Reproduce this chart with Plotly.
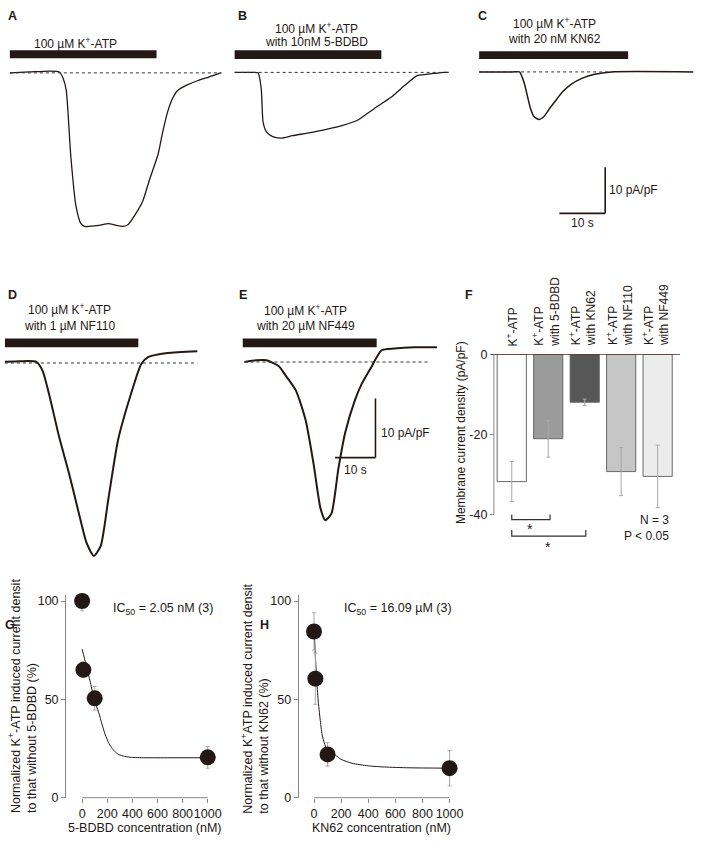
import plotly.graph_objects as go

W, H = 708, 846
FONT = "Liberation Sans, Arial, Helvetica, sans-serif"
INK = "#231815"

# ---------------- data ----------------
# Current traces: time (s) and membrane current density (pA/pF)
tA = [0, 4.3, 8.6, 10.8, 11.6, 12.3, 13.3, 14.4, 15.5, 16.3, 19.4, 21.5, 23.2, 24.7, 25.8,
      27.5, 29.0, 30.5, 32.3, 33.3, 34.4, 35.5, 36.6, 38.7, 40.9, 43.4, 46.0]
iA = [0, 0.2, 0.4, 0.2, -1.1, -3.8, -18.1, -28.7, -32.6, -33.2, -33.0, -32.6, -33.0, -33.2, -32.8,
      -30.4, -27.7, -23.0, -17.7, -13.0, -8.5, -5.5, -3.8, -2.6, -1.7, -0.9, 0]

tB = [0, 3.7, 5.1, 5.8, 6.2, 6.9, 8.3, 10.1, 12.6, 17.6, 23.4, 26.9, 30.5, 34.1, 37.0,
      39.8, 41.3, 45.6, 46.7]
iB = [0, 0, -0.1, -3.5, -10.7, -12.8, -13.9, -14.2, -13.7, -12.8, -11.5, -10.3, -7.8, -5.4, -2.9,
      -0.7, -0.5, 0, 0]

tC = [0, 7.3, 8.8, 9.8, 10.5, 11.2, 12.0, 13.1, 14.1, 15.6, 17.0, 18.1, 20.2, 22.4, 25.2, 28.8, 46.7]
iC = [0, 0, 0, -2.3, -5.1, -7.9, -9.7, -10.3, -9.7, -7.6, -5.8, -4.4, -2.6, -1.4, -0.5, 0, 0]

tD = [0, 3.7, 7.8, 9.3, 11.0, 13.4, 15.9, 18.3, 20.2, 22.0, 23.7, 25.6, 28.0, 31.2, 33.7,
      35.4, 40.2, 47.6]
iD = [0.2, 0.3, 0.2, -1.3, -5.5, -12.5, -18.8, -25.5, -30.5, -32.7, -31.0, -23.0, -13.0, -5.2, -0.2,
      1.0, 1.7, 2.0]

tE = [0, 2.9, 5.4, 8.5, 10.2, 12.7, 15.1, 17.1, 18.8, 20.0, 21.5, 23.2, 24.9, 27.3, 29.0,
      31.5, 33.9, 37.1, 42.0, 47.6]
iE = [0, 0.3, 0.3, -0.7, -2.3, -4.8, -9.8, -17.3, -24.8, -26.8, -25.7, -18.2, -12.0, -6.5, -3.7,
      -0.7, 2.0, 2.3, 2.5, 2.5]

# application bars (s)
bar_on = [0, 0, 0, 0, -0.5]
bar_off = [32, 32, 32.5, 33, 32.7]

# F: bar chart
f_labels = ["K<sup>+</sup>-ATP",
            "K<sup>+</sup>-ATP<br>with 5-BDBD",
            "K<sup>+</sup>-ATP<br>with KN62",
            "K<sup>+</sup>-ATP<br>with NF110",
            "K<sup>+</sup>-ATP<br>with NF449"]
f_values = [-31.8, -21.1, -12.0, -29.3, -30.5]
f_errors = [5.0, 4.6, 0.8, 6.0, 7.8]
f_ticks = [0, -20, -40]

# G: 5-BDBD dose response
g_conc = [0, 10, 100, 1000]
g_val = [100, 65, 50.5, 20.5]
g_err = [5, 4, 6, 5.5]
g_fit_x = [0, 30, 66, 100, 131, 160, 184, 210, 234, 260, 289, 340, 391, 500, 700, 1000]
g_fit_y = [75.5, 68, 58.5, 49, 43.5, 37, 32, 28, 25.5, 23.5, 22, 21, 20.5, 20.3, 20.3, 20.3]

# H: KN62 dose response
h_conc = [0, 10, 100, 1000]
h_val = [84.5, 60.5, 22, 15]
h_err = [9.5, 13, 6, 9]
h_fit_x = [0, 10, 20, 30, 45, 60, 80, 100, 130, 160, 200, 280, 400, 520, 700, 1000]
h_fit_y = [88, 72, 60, 50, 40, 32, 27, 24, 22.5, 21.5, 19.5, 17.5, 16.2, 15.6, 15.2, 15]

dose_ticks = [0, 200, 400, 600, 800, 1000]
pct_ticks = [0, 50, 100]


# ---------------- helpers ----------------
def fx(px):
    return px / W


def fy(py):
    return 1 - py / H


def ann(text, x, y, xanchor="center", yanchor="middle", size=12, bold=False, **kw):
    if bold:
        text = "<b>" + text + "</b>"
    return dict(text=text, x=fx(x), y=fy(y), xref="paper", yref="paper", showarrow=False,
                xanchor=xanchor, yanchor=yanchor,
                font=dict(size=size, color=INK, family=FONT), **kw)


fig = go.Figure()
layout = dict(width=W, height=H, margin=dict(l=0, r=0, t=0, b=0),
              paper_bgcolor="white", plot_bgcolor="rgba(0,0,0,0)",
              showlegend=False, font=dict(family=FONT, color=INK, size=12))
shapes = []
annotations = []

# ---------------- trace panels A-E ----------------
panels = [
    dict(t=tA, i=iA, x0=10, yb=67, dx=(8, 228), dy=(40, 235), st=4.65, si=4.7, end=46.2, bar=(44, 52), w=1.3),
    dict(t=tB, i=iB, x0=238, yb=66.5, dx=(236, 458), dy=(40, 235), st=4.65, si=4.7, end=46.7, bar=(44, 53), w=1.3),
    dict(t=tC, i=iC, x0=486, yb=66, dx=(484, 706), dy=(40, 235), st=4.65, si=4.7, end=29, bar=(45, 53), w=1.5),
    dict(t=tD, i=iD, x0=5, yb=362, dx=(3, 205), dy=(330, 565), st=4.1, si=6.0, end=47.6, bar=(337, 346), w=2.0),
    dict(t=tE, i=iE, x0=248, yb=361, dx=(246, 450), dy=(330, 565), st=4.1, si=6.0, end=46.0, bar=(337, 346), w=2.0),
]

for k, p in enumerate(panels):
    n = k + 1
    sx = "" if n == 1 else str(n)
    xr = [(p["dx"][0] - p["x0"]) / p["st"], (p["dx"][1] - p["x0"]) / p["st"]]
    yr = [(p["yb"] - p["dy"][1]) / p["si"], (p["yb"] - p["dy"][0]) / p["si"]]
    layout["xaxis" + sx] = dict(domain=[fx(p["dx"][0]), fx(p["dx"][1])], range=xr, visible=False,
                                anchor="y" + sx, fixedrange=True)
    layout["yaxis" + sx] = dict(domain=[fy(p["dy"][1]), fy(p["dy"][0])], range=yr, visible=False,
                                anchor="x" + sx, fixedrange=True)
    fig.add_trace(go.Scatter(x=p["t"], y=p["i"], mode="lines", xaxis="x" + sx, yaxis="y" + sx,
                             line=dict(color=INK, width=p["w"], shape="spline", smoothing=0.6),
                             hoverinfo="skip"))
    # dotted baseline
    shapes.append(dict(type="line", xref="x" + sx, yref="y" + sx, x0=0, x1=p["end"], y0=0, y1=0,
                       line=dict(color="#333", width=1, dash="dot")))
    # application bar
    shapes.append(dict(type="rect", xref="x" + sx, yref="paper", x0=bar_on[k], x1=bar_off[k],
                       y0=fy(p["bar"][1]), y1=fy(p["bar"][0]), fillcolor=INK, line=dict(width=0)))

# scale bars (panel C axes and panel E axes)
shapes += [
    dict(type="line", xref="x3", yref="y3", x0=27.5, x1=27.5, y0=-20.6, y1=-30.6, line=dict(color=INK, width=1.6)),
    dict(type="line", xref="x3", yref="y3", x0=17.5, x1=27.5, y0=-30.6, y1=-30.6, line=dict(color=INK, width=1.6)),
    dict(type="line", xref="x5", yref="y5", x0=32.4, x1=32.4, y0=-6.2, y1=-16.2, line=dict(color=INK, width=1.6)),
    dict(type="line", xref="x5", yref="y5", x0=22.4, x1=32.4, y0=-16.2, y1=-16.2, line=dict(color=INK, width=1.6)),
]
annotations += [
    ann("10 pA/pF", 616, 186, xanchor="left"),
    ann("10 s", 591, 220),
    ann("10 pA/pF", 384, 433, xanchor="left"),
    ann("10 s", 361, 471),
]

# trace titles
annotations += [
    ann("100 µM K<sup>+</sup>-ATP", 77, 37),
    ann("100 µM K<sup>+</sup>-ATP", 321, 21),
    ann("with 10nM 5-BDBD", 321, 36),
    ann("100 µM K<sup>+</sup>-ATP", 562, 16),
    ann("with 20 nM KN62", 562, 33),
    ann("100 µM K<sup>+</sup>-ATP", 71, 307),
    ann("with 1 µM NF110", 71, 324),
    ann("100 µM K<sup>+</sup>-ATP", 310, 308),
    ann("with 20 µM NF449", 310, 324),
]

# panel letters
for letter, (x, y) in zip("ABCDEFGH", [(13, 9), (246, 9), (489, 9), (13, 293), (246, 293),
                                       (476, 293), (10, 628), (268, 628)]):
    annotations.append(ann(letter, x, y, size=12.5, bold=True))

# ---------------- panel F: bar chart ----------------
f_x = list(range(len(f_values)))
f_colors = ["#ffffff", "#9b9b9b", "#575757", "#c6c6c6", "#ececec"]
fig.add_trace(go.Bar(x=f_x, y=f_values, xaxis="x6", yaxis="y6", width=0.8,
                     marker=dict(color=f_colors, line=dict(color="#6a6a6a", width=1)),
                     error_y=dict(type="data", array=f_errors, color="#a8a8a8", thickness=1, width=2),
                     hoverinfo="skip"))
f_px_per = 4.075
layout["xaxis6"] = dict(domain=[fx(498), fx(690)], range=[-0.57, 4.62], visible=False, anchor="y6",
                        fixedrange=True)
layout["yaxis6"] = dict(domain=[fy(553), fy(353)], range=[-(553 - 353) / f_px_per, 0], anchor="free",
                        position=fx(501), showline=False, showgrid=False, zeroline=False,
                        tickvals=f_ticks, ticktext=[str(v) for v in f_ticks], ticks="outside",
                        ticklen=4, tickcolor="#888", tickfont=dict(size=12.5, color=INK), fixedrange=True)
shapes += [
    dict(type="line", xref="x6", yref="y6", x0=-0.49, x1=-0.49, y0=0, y1=-40, line=dict(color="#888", width=1)),
    dict(type="line", xref="x6", yref="y6", x0=-0.57, x1=4.62, y0=0, y1=0, line=dict(color="#4a2a20", width=1.6)),
    # significance brackets
    dict(type="path", xref="x6", yref="y6", path="M 0,-40 L 0,-41.3 L 1.05,-41.3 L 1.05,-40",
         line=dict(color="#333", width=1.2)),
    dict(type="path", xref="x6", yref="y6", path="M 0,-43.9 L 0,-45.4 L 2.03,-45.4 L 2.03,-43.9",
         line=dict(color="#333", width=1.2)),
]
for k, lab in enumerate(f_labels):
    annotations.append(dict(text=lab, x=k + (0.0 if k == 0 else -0.05), y=fy(347), xref="x6", yref="paper",
                            showarrow=False, textangle=-90, xanchor="center", yanchor="bottom",
                            align="left", font=dict(size=12, color=INK, family=FONT)))
annotations += [
    ann("*", 538, 531, size=14),
    ann("*", 556, 549, size=14),
    ann("N = 3", 681, 522, xanchor="right"),
    ann("P < 0.05", 681, 538, xanchor="right"),
    dict(text="Membrane current density (pA/pF)", x=fx(477), y=fy(433), xref="paper", yref="paper",
         showarrow=False, textangle=-90, font=dict(size=12, color=INK, family=FONT)),
]


# ---------------- panels G and H: dose-response ----------------
def dose_panel(n, conc, val, err, fitx, fity, ax_px, right_px, x0_px, ppx, ytitle1, ytitle2,
               xtitle, ic50, ic_x):
    sx = str(n)
    xr = [(ax_px - x0_px) / ppx, (right_px - x0_px) / ppx]
    layout["xaxis" + sx] = dict(domain=[fx(ax_px), fx(right_px)], range=xr, anchor="y" + sx,
                                showline=False, showgrid=False, zeroline=False, tickvals=dose_ticks,
                                ticks="outside", ticklen=4, tickcolor="#888", tickangle=0,
                                tickfont=dict(size=12.5, color=INK), fixedrange=True)
    layout["yaxis" + sx] = dict(domain=[fy(804), fy(598)], range=[0, 103], anchor="x" + sx,
                                showline=True, linecolor="#888", linewidth=1, showgrid=False,
                                zeroline=False, tickvals=pct_ticks, ticks="outside", ticklen=4,
                                tickcolor="#888", tickfont=dict(size=12.5, color=INK), fixedrange=True)
    shapes.append(dict(type="line", xref="x" + sx, yref="paper", x0=0, x1=1000, y0=fy(804), y1=fy(804),
                       line=dict(color="#888", width=1)))
    fig.add_trace(go.Scatter(x=fitx, y=fity, mode="lines", xaxis="x" + sx, yaxis="y" + sx,
                             line=dict(color=INK, width=1, shape="spline", smoothing=0.6),
                             hoverinfo="skip", cliponaxis=False))
    fig.add_trace(go.Scatter(x=conc, y=val, mode="markers", xaxis="x" + sx, yaxis="y" + sx,
                             marker=dict(size=16, color=INK),
                             error_y=dict(type="data", array=err, color="#aaa", thickness=1, width=2),
                             hoverinfo="skip", cliponaxis=False))
    annotations.append(ann(ic50, ic_x, 612, xanchor="left", size=12.5))
    annotations.append(ann(xtitle, (x0_px + x0_px + 1000 * ppx) / 2, 835, size=12.5))
    # rotated two-line y title
    annotations.append(dict(text=ytitle1 + "<br>" + ytitle2, x=fx(ax_px - 44), y=fy(822), xref="paper",
                            yref="paper", showarrow=False, textangle=-90, xanchor="center",
                            yanchor="bottom", align="left", font=dict(size=12.5, color=INK, family=FONT)))


dose_panel(7, g_conc, g_val, g_err, g_fit_x, g_fit_y, 67, 215, 83.3, 0.1274,
           "Normalized K<sup>+</sup>-ATP induced current densit", "to that without 5-BDBD (%)",
           "5-BDBD concentration (nM)", "IC<sub>50</sub> = 2.05 nM (3)", 113)
dose_panel(8, h_conc, h_val, h_err, h_fit_x, h_fit_y, 303, 462, 318.5, 0.1375,
           "Normalized K<sup>+</sup>ATP induced current densit", "to that without KN62 (%)",
           "KN62 concentration (nM)", "IC<sub>50</sub> = 16.09 µM (3)", 347)

layout["shapes"] = shapes
layout["annotations"] = annotations
fig.update_layout(**layout)
fig.write_html("out.html", config={"displayModeBar": False, "staticPlot": True},
               post_script="document.body.style.margin='0px';document.body.style.overflow='hidden';")
